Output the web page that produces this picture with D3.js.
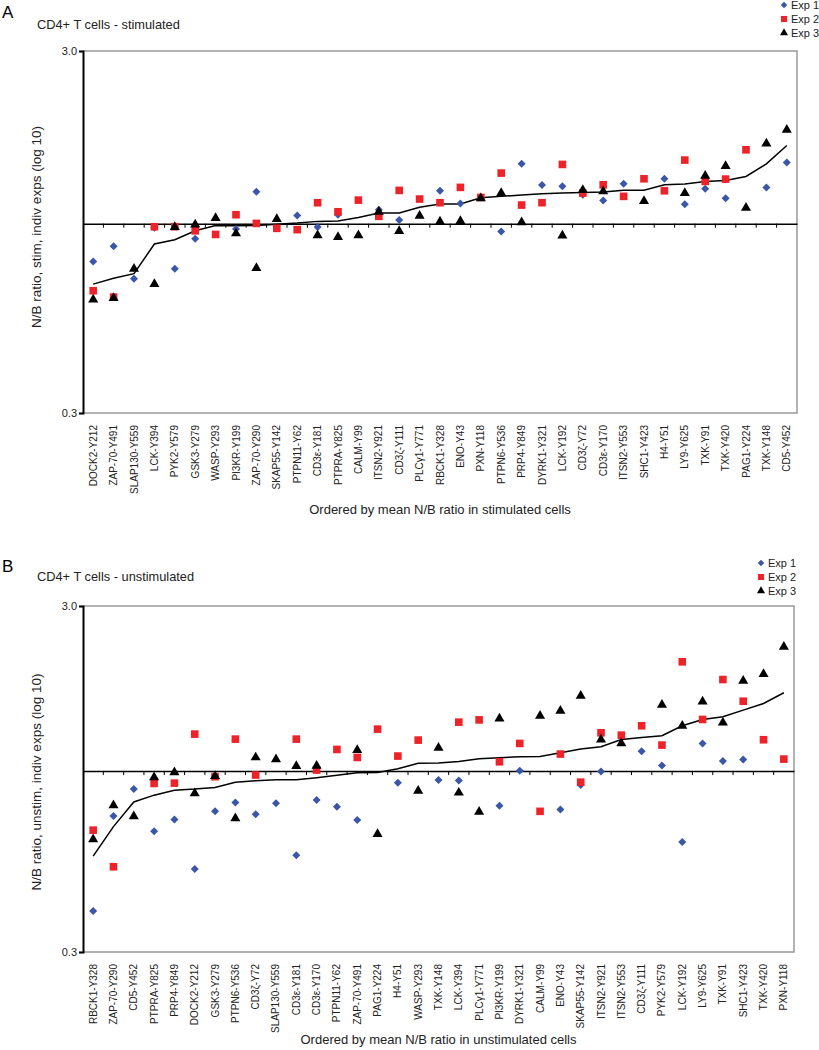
<!DOCTYPE html>
<html>
<head>
<meta charset="utf-8">
<script src="https://cdn.jsdelivr.net/npm/d3@7"></script>
<style>
  html, body { margin: 0; padding: 0; background: #fff; }
  svg { display: block; font-family: "Liberation Sans", Arial, sans-serif; }
</style>
</head>
<body>
<svg id="chart" width="819" height="1050"></svg>
<script>
// ---------------- DATA ----------------
const yTicks = [0.3, 3.0];
const seriesNames = ["Exp 1", "Exp 2", "Exp 3"];

const catsA = ["DOCK2-Y212","ZAP-70-Y491","SLAP130-Y559","LCK-Y394","PYK2-Y579","GSK3-Y279","WASP-Y293","PI3KR-Y199","ZAP-70-Y290","SKAP55-Y142","PTPN11-Y62","CD3ε-Y181","PTPRA-Y825","CALM-Y99","ITSN2-Y921","CD3ζ-Y111","PLCγ1-Y771","RBCK1-Y328","ENO-Y43","PXN-Y118","PTPN6-Y536","PRP4-Y849","DYRK1-Y321","LCK-Y192","CD3ζ-Y72","CD3ε-Y170","ITSN2-Y553","SHC1-Y423","H4-Y51","LY9-Y625","TXK-Y91","TXK-Y420","PAG1-Y224","TXK-Y148","CD5-Y452"];
const exp1A = [0.787,0.866,0.705,0.975,0.751,0.909,null,0.967,1.226,null,1.054,0.979,1.059,null,1.093,1.024,null,1.233,1.138,null,0.952,1.464,1.279,1.270,1.202,1.160,1.289,null,1.331,1.131,1.249,1.175,null,1.260,1.477];
const exp2A = [0.653,0.627,null,0.981,0.981,0.956,0.934,1.059,1.002,0.971,0.963,1.143,1.079,1.162,1.048,1.236,1.170,1.143,1.260,1.182,1.380,1.126,1.143,1.458,1.215,1.281,1.190,1.331,1.233,1.499,1.309,1.328,1.600,null,null];
const exp3A = [0.617,0.623,0.751,0.681,0.979,0.994,1.037,0.940,0.754,1.030,null,0.929,0.919,0.929,1.079,0.954,1.052,1.013,1.017,1.175,1.215,1.009,null,0.927,1.238,1.228,null,1.155,null,1.215,1.357,1.443,1.107,1.666,1.817];
const meanA = [0.681,0.707,0.728,0.879,0.903,0.956,0.989,0.987,0.989,0.996,1.004,1.015,1.017,1.041,1.070,1.070,1.110,1.133,1.133,1.180,1.190,1.200,1.210,1.215,1.220,1.223,1.238,1.238,1.281,1.287,1.309,1.317,1.351,1.464,1.645];

const catsB = ["RBCK1-Y328","ZAP-70-Y290","CD5-Y452","PTPRA-Y825","PRP4-Y849","DOCK2-Y212","GSK3-Y279","PTPN6-Y536","CD3ζ-Y72","SLAP130-Y559","CD3ε-Y181","CD3ε-Y170","PTPN11-Y62","ZAP-70-Y491","PAG1-Y224","H4-Y51","WASP-Y293","TXK-Y148","LCK-Y394","PLCγ1-Y771","PI3KR-Y199","DYRK1-Y321","CALM-Y99","ENO-Y43","SKAP55-Y142","ITSN2-Y921","ITSN2-Y553","CD3ζ-Y111","PYK2-Y579","LCK-Y192","LY9-Y625","TXK-Y91","SHC1-Y423","TXK-Y420","PXN-Y118"];
const exp1B = [0.394,0.742,0.887,0.670,0.724,0.521,0.766,0.812,0.750,0.807,0.571,0.825,0.789,0.722,null,0.925,null,0.942,0.940,null,0.794,1.002,null,0.775,0.911,0.998,null,1.142,1.038,0.624,1.202,1.069,1.081,null,null];
const exp2B = [0.675,0.529,null,0.921,0.923,1.279,0.963,1.237,0.974,null,1.237,1.007,1.155,1.095,1.322,1.105,1.229,null,1.385,1.406,1.064,1.202,0.765,1.120,0.929,1.290,1.270,1.352,1.189,2.069,1.410,1.839,1.592,1.232,1.083];
const exp3B = [0.635,0.796,0.740,0.959,0.991,0.862,0.967,0.730,1.095,1.081,1.034,1.036,null,1.150,0.658,null,0.877,1.168,0.866,0.763,1.419,null,1.445,1.494,1.650,1.234,1.202,null,1.554,1.352,1.589,1.382,1.823,1.906,2.286];
const meanB = [0.568,0.691,0.814,0.852,0.880,0.887,0.897,0.928,0.938,0.944,0.944,0.957,0.972,0.989,0.990,1.015,1.053,1.055,1.066,1.085,1.093,1.100,1.102,1.129,1.158,1.176,1.234,1.251,1.265,1.352,1.410,1.435,1.500,1.568,1.684];

// ---------------- DRAW ----------------
const svg = d3.select("#chart");
svg.append("rect").attr("width", 819).attr("height", 1050).attr("fill", "#fff");

const colors = ["#3a56a8", "#ee2229", "#000000"];
const symDiamond = d3.symbol().type(d3.symbolSquare).size(32)();
const symSquare = d3.symbol().type(d3.symbolSquare).size(58)();
const symTri = d3.symbol().type(d3.symbolTriangle).size(44)();
function markerPath(i) { return i === 0 ? symDiamond : (i === 1 ? symSquare : symTri); }
function markerRot(i) { return i === 0 ? " rotate(45)" : ""; }

function drawPanel(cfg) {
  const g = svg.append("g");
  const x = d3.scaleBand().domain(cfg.cats).range([cfg.left, cfg.right]).padding(0);
  const y = d3.scaleLog().domain([0.3, 3.0]).range([cfg.bottom, cfg.top]);

  // panel letter and title
  g.append("text").attr("x", 2).attr("y", cfg.letterY).attr("font-size", 17)
    .attr("fill", "#000").text(cfg.letter);
  g.append("text").attr("x", 37).attr("y", cfg.titleY).attr("font-size", 12.8)
    .attr("fill", "#222").text(cfg.title);

  // legend
  seriesNames.forEach((nm, i) => {
    const ly = cfg.legY + i * cfg.legStep;
    g.append("path").attr("d", markerPath(i))
      .attr("transform", `translate(${cfg.legX},${ly})${markerRot(i)} scale(0.8)`)
      .attr("fill", colors[i]);
    g.append("text").attr("x", cfg.legX + 7).attr("y", ly + 4).attr("font-size", 11)
      .attr("fill", "#222").text(nm);
  });

  // frame (gray top/right/bottom)
  g.append("path")
    .attr("d", `M${cfg.left},${cfg.top}H${cfg.right}V${cfg.bottom}H${cfg.left}`)
    .attr("fill", "none").attr("stroke", "#999").attr("stroke-width", 1.5);

  // left axis
  const yAxis = d3.axisLeft(y).tickValues(yTicks).tickFormat(d3.format(".1f")).tickSize(4).tickPadding(2);
  const ya = g.append("g").attr("transform", `translate(${cfg.left},0)`).call(yAxis);
  ya.select(".domain").attr("stroke", "#000").attr("stroke-width", 2);
  ya.selectAll(".tick line").attr("stroke", "#000").attr("stroke-width", 1.2);
  ya.selectAll(".tick text").attr("font-size", 11).attr("fill", "#222")
    .attr("font-family", "Liberation Sans, Arial, sans-serif");

  // baseline at 1.0 with category ticks
  const y1 = y(1.0);
  const xAxis = d3.axisBottom(x).tickSize(0).tickFormat("");
  const xa = g.append("g").attr("transform", `translate(0,${y1})`).call(xAxis);
  xa.select(".domain").attr("stroke", "#000").attr("stroke-width", 1.5);
  xa.selectAll(".tick").remove();
  g.append("g").selectAll("line").data(cfg.cats.slice(1)).join("line")
    .attr("x1", d => x(d)).attr("x2", d => x(d))
    .attr("y1", y1).attr("y2", y1 + 4)
    .attr("stroke", "#000").attr("stroke-width", 1);

  // category labels
  g.append("g").selectAll("text").data(cfg.cats).join("text")
    .attr("transform", d => `translate(${x(d) + x.bandwidth() / 2 + 3.5},${cfg.bottom + 12}) rotate(-90)`)
    .attr("text-anchor", "end").attr("font-size", 10).attr("fill", "#222")
    .text(d => d);

  // axis titles
  g.append("text")
    .attr("transform", `translate(${cfg.yTitleX},${cfg.yTitleY}) rotate(-90)`)
    .attr("text-anchor", "middle").attr("font-size", 13.5).attr("fill", "#222")
    .text(cfg.yTitle);
  g.append("text").attr("x", (cfg.left + cfg.right) / 2).attr("y", cfg.xTitleY)
    .attr("text-anchor", "middle").attr("font-size", 13).attr("fill", "#222")
    .text(cfg.xTitle);

  const cx = d => x(d) + x.bandwidth() / 2;

  // mean line
  const line = d3.line().x((v, i) => cx(cfg.cats[i])).y(v => y(v));
  g.append("path").attr("d", line(cfg.mean)).attr("fill", "none")
    .attr("stroke", "#000").attr("stroke-width", 1.5);

  // markers
  cfg.series.forEach((vals, si) => {
    g.append("g").selectAll("path")
      .data(vals.map((v, i) => ({ v, c: cfg.cats[i] })).filter(d => d.v != null))
      .join("path")
      .attr("d", markerPath(si))
      .attr("transform", d => `translate(${cx(d.c)},${y(d.v)})${markerRot(si)}`)
      .attr("fill", colors[si]);
  });
}

drawPanel({
  letter: "A", letterY: 18, title: "CD4+ T cells - stimulated", titleY: 29,
  legX: 784, legY: 5, legStep: 14,
  left: 83, right: 797, top: 51, bottom: 413,
  cats: catsA, series: [exp1A, exp2A, exp3A], mean: meanA,
  yTitle: "N/B ratio, stim, indiv exps (log 10)", yTitleX: 41, yTitleY: 227,
  xTitle: "Ordered by mean N/B ratio in stimulated cells", xTitleY: 514
});

drawPanel({
  letter: "B", letterY: 572, title: "CD4+ T cells - unstimulated", titleY: 581,
  legX: 761, legY: 563, legStep: 14,
  left: 83, right: 794, top: 606, bottom: 952,
  cats: catsB, series: [exp1B, exp2B, exp3B], mean: meanB,
  yTitle: "N/B ratio, unstim, indiv exps (log 10)", yTitleX: 41, yTitleY: 782,
  xTitle: "Ordered by mean N/B ratio in unstimulated cells", xTitleY: 1044
});
</script>
</body>
</html>
